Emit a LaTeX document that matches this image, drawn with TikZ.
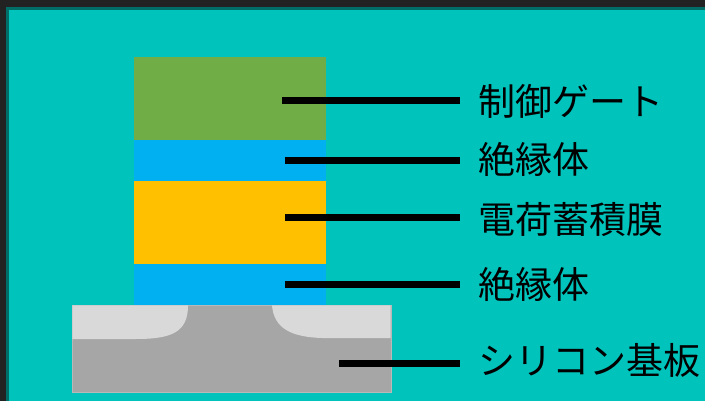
\documentclass[tikz,border=0pt]{standalone}
\usepackage{fontspec}
\setmainfont{Noto Sans CJK JP}
\usetikzlibrary{
  positioning,
  calc,
}
\definecolor{frame}{RGB}{34,34,34}
\definecolor{panel}{RGB}{0,196,188}
\definecolor{paneledge}{RGB}{0,110,104}
\definecolor{gatecol}{RGB}{112,173,71}
\definecolor{oxidecol}{RGB}{0,176,240}
\definecolor{trapcol}{RGB}{255,192,0}
\definecolor{subcol}{RGB}{166,166,166}
\definecolor{wellcol}{RGB}{217,217,217}
\def\mylabelx{478}
\tikzset{
  semithick,
  layer/.style={
    draw=none
  },
  my label/.style={
    anchor=west,
    inner sep=0pt,
    font=\fontsize{37}{37}\selectfont,
    text height=30.8pt,  % fixed box, so west anchor sits on the glyph middle
    text depth=2.6pt
  },
  leader/.style={
    line width=7pt,
    shorten >=18pt
  }
}
\begin{document}
\begin{tikzpicture}[x=1pt,y=-1pt]
\useasboundingbox (0,0) rectangle (705,401);
\clip (0,0) rectangle (705,401);
% window frame and panel
\fill[frame] (0,0) rectangle (705,401);
\filldraw[fill=panel,draw=paneledge,line width=3pt] (7.5,8.5) rectangle (720,420);
% gate stack
\fill[layer,gatecol]  (134,57)  rectangle (326,140);
\fill[layer,oxidecol] (134,140) rectangle (326,181);
\fill[layer,trapcol]  (134,181) rectangle (326,264);
\fill[layer,oxidecol] (134,264) rectangle (326,306);
% substrate with source/drain wells
\filldraw[fill=subcol,draw=subcol!80!white,line width=0.8pt] (72,305) rectangle (391,392);
\fill[wellcol] (72.4,305.4) -- (188,305.4) .. controls (188,332) and (172,339) .. (136,339)
  -- (72.4,339) -- cycle;
\fill[wellcol] (272,305.4) .. controls (274,329) and (292,337) .. (322,338)
  -- (390.6,338) -- (390.6,305.4) -- cycle;
% labels
\node[my label] (gate)  at (\mylabelx,101) {制御ゲート};
\node[my label] (ox1)   at (\mylabelx,159) {絶縁体};
\node[my label] (trap)  at (\mylabelx,219) {電荷蓄積膜};
\node[my label] (ox2)   at (\mylabelx,284) {絶縁体};
\node[my label] (sub)   at (\mylabelx,360) {シリコン基板};
\coordinate (gatept) at (282,101);
\coordinate (ox1pt)  at (285,161);
\coordinate (trappt) at (285,218);
\coordinate (ox2pt)  at (285,284.5);
\coordinate (subpt)  at (339,363);
\draw[leader] (gatept) -- (gatept -| gate.west);
\draw[leader] (ox1pt)  -- (ox1pt -| ox1.west);
\draw[leader] (trappt) -- (trappt -| trap.west);
\draw[leader] (ox2pt)  -- (ox2pt -| ox2.west);
\draw[leader] (subpt)  -- (subpt -| sub.west);
\end{tikzpicture}
\end{document}
